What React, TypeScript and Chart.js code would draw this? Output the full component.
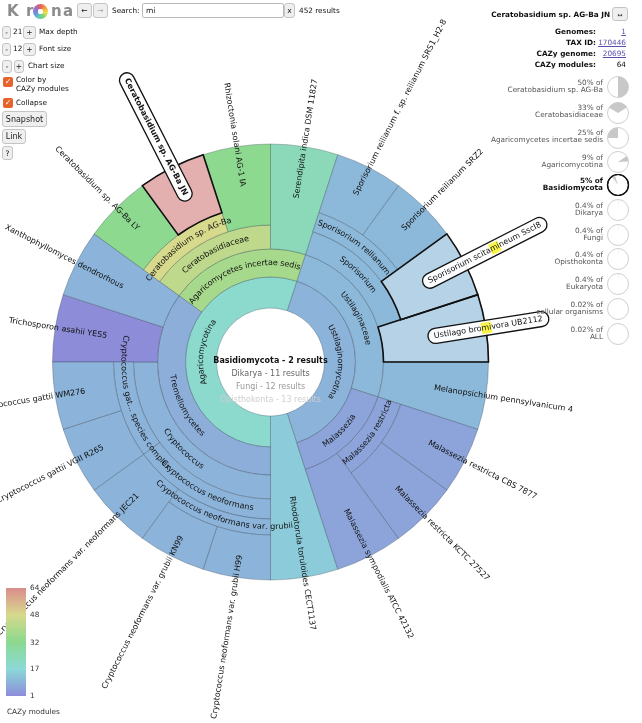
import React, { useEffect, useRef } from "react";
import { Chart, registerables } from "chart.js";

Chart.register(...registerables);

// ---------------- data ----------------
// rings from the centre outwards; "" = slot continued by a wedge from an inner ring
const ring1Names = ["Ustilaginomycotina", "Rhodotorula toruloides CECT1137", "Agaricomycotina"];
const ring1Genomes = [8, 1, 11];
const ring1Cazy = [9, 14, 19];

const ring2Names = ["Ustilaginaceae", "Malassezia", "", "Tremellomycetes", "Agaricomycetes incertae sedis"];
const ring2Genomes = [5, 3, 1, 7, 4];
const ring2Cazy = [10, 6, 0, 8, 38];

const ring3Names = [
  "Sporisorium",
  "Ustilago bromivora UB2112",
  "Melanopsichium pennsylvanicum 4",
  "Malassezia restricta",
  "Malassezia sympodialis ATCC 42132",
  "",
  "Cryptococcus",
  "Trichosporon asahii YES5",
  "Xanthophyllomyces dendrorhous",
  "Ceratobasidiaceae",
  "Serendipita indica DSM 11827",
];
const ring3Genomes = [3, 1, 1, 2, 1, 1, 5, 1, 1, 3, 1];
const ring3Cazy = [10, 10, 10, 6, 6, 0, 9, 1, 9, 43, 23];

const ring4Names = [
  "Sporisorium reilianum",
  "Sporisorium scitamineum SscI8",
  "",
  "Malassezia restricta CBS 7877",
  "Malassezia restricta KCTC 27527",
  "",
  "Cryptococcus neoformans",
  "Cryptococcus gat... species complex",
  "",
  "Ceratobasidium sp. AG-Ba",
  "Rhizoctonia solani AG-1 IA",
  "",
];
const ring4Genomes = [2, 1, 2, 1, 1, 2, 3, 2, 2, 2, 1, 1];
const ring4Cazy = [10, 10, 0, 6, 6, 0, 9, 9, 0, 48, 32, 0];

const ring5Names = [
  "Sporisorium reilianum f. sp. reilianum SRS1_H2-8",
  "Sporisorium reilianum SRZ2",
  "",
  "Cryptococcus neoformans var. grubii",
  "Cryptococcus neoformans var. neoformans JEC21",
  "Cryptococcus gattii VGII R265",
  "Cryptococcus gattii WM276",
  "",
  "Ceratobasidium sp. AG-Ba LY",
  "Ceratobasidium sp. AG-Ba JN",
  "",
];
const ring5Genomes = [1, 1, 7, 2, 1, 1, 1, 2, 1, 1, 2];
const ring5Cazy = [10, 10, 0, 9, 9, 9, 9, 0, 32, 64, 0];

const ring6Names = ["", "Cryptococcus neoformans var. grubii H99", "Cryptococcus neoformans var. grubii KN99", ""];
const ring6Genomes = [9, 1, 1, 9];
const ring6Cazy = [0, 9, 9, 0];

const searchTerm = "mi";
const searchMatches = ["Sporisorium scitamineum SscI8", "Ustilago bromivora UB2112"];
const selectedName = "Ceratobasidium sp. AG-Ba JN";

const centerLines = ["Basidiomycota - 2 results", "Dikarya - 11 results", "Fungi - 12 results", "Opisthokonta - 13 results"];

const colorTicks = [64, 48, 32, 17, 1];

const detailLabels = ["Genomes:", "TAX ID:", "CAZy genome:", "CAZy modules:"];
const detailValues = ["1", "170446", "20695", "64"];
const detailLinks = [true, true, true, false];

const piePercentText = ["50% of", "33% of", "25% of", "9% of", "5% of", "0.4% of", "0.4% of", "0.4% of", "0.4% of", "0.02% of", "0.02% of"];
const pieParents = [
  "Ceratobasidium sp. AG-Ba",
  "Ceratobasidiaceae",
  "Agaricomycetes incertae sedis",
  "Agaricomycotina",
  "Basidiomycota",
  "Dikarya",
  "Fungi",
  "Opisthokonta",
  "Eukaryota",
  "cellular organisms",
  "ALL",
];
const piePercents = [50, 33, 25, 9, 5, 0.4, 0.4, 0.4, 0.4, 0.02, 0.02];
const pieStartDeg = [0, -60, 270, 55, 324, 0, 0, 0, 0, 0, 0];

// ---------------- styling helpers ----------------
const FF = "'DejaVu Sans', sans-serif";
const FS = 8;
const ringWeights = [31, 28, 24, 20, 16, 45];

function nodeColor(v: number, lightness = 70) {
  const hue = 240 - (240 * (v - 1)) / 63;
  return `hsl(${hue.toFixed(1)}, 50%, ${lightness}%)`;
}

const rings = [
  { names: ring1Names, genomes: ring1Genomes, cazy: ring1Cazy },
  { names: ring2Names, genomes: ring2Genomes, cazy: ring2Cazy },
  { names: ring3Names, genomes: ring3Genomes, cazy: ring3Cazy },
  { names: ring4Names, genomes: ring4Genomes, cazy: ring4Cazy },
  { names: ring5Names, genomes: ring5Genomes, cazy: ring5Cazy },
  { names: ring6Names, genomes: ring6Genomes, cazy: ring6Cazy },
];

function buildDatasets() {
  return rings
    .map((ring, i) => ({
      data: ring.genomes,
      weight: ringWeights[i],
      backgroundColor: ring.names.map((n, j) =>
        n === ""
          ? "rgba(0,0,0,0)"
          : nodeColor(ring.cazy[j], n === selectedName ? 79 : searchMatches.includes(n) ? 81 : 70)
      ),
      borderColor: ring.names.map((n) => (n === "" ? "rgba(0,0,0,0)" : "rgba(40,55,70,0.38)")),
      borderWidth: ring.names.map((n) => (n === "" ? 0 : 0.8)),
      names: ring.names,
      leaf: ring.names.map((n, j) => n !== "" && ring.genomes[j] === 1),
    }))
    .reverse();
}

function drawArcText(ctx: CanvasRenderingContext2D, text: string, cx: number, cy: number, r: number, mid: number) {
  ctx.font = `${FS}px ${FF}`;
  ctx.textAlign = "center";
  ctx.textBaseline = "middle";
  const w = ctx.measureText(text).width;
  const bottom = Math.sin(mid) > 0.02;
  const span = w / r;
  let a = bottom ? mid + span / 2 : mid - span / 2;
  for (const ch of text) {
    const cw = ctx.measureText(ch).width;
    const ac = bottom ? a - cw / 2 / r : a + cw / 2 / r;
    ctx.save();
    ctx.translate(cx + r * Math.cos(ac), cy + r * Math.sin(ac));
    ctx.rotate(bottom ? ac - Math.PI / 2 : ac + Math.PI / 2);
    ctx.fillText(ch, 0, 0);
    ctx.restore();
    a = bottom ? a - cw / r : a + cw / r;
  }
}

function roundRectPath(ctx: CanvasRenderingContext2D, x: number, y: number, w: number, h: number, r: number) {
  ctx.beginPath();
  ctx.moveTo(x + r, y);
  ctx.lineTo(x + w - r, y);
  ctx.arc(x + w - r, y + r, r, -Math.PI / 2, Math.PI / 2);
  ctx.lineTo(x + r, y + h);
  ctx.arc(x + r, y + r, r, Math.PI / 2, (3 * Math.PI) / 2);
  ctx.closePath();
}

function drawLeafText(
  ctx: CanvasRenderingContext2D,
  text: string,
  cx: number,
  cy: number,
  rStart: number,
  mid: number,
  boxed: boolean,
  bold: boolean,
  term: string
) {
  ctx.save();
  ctx.translate(cx, cy);
  const right = Math.cos(mid) >= 0;
  ctx.rotate(right ? mid : mid + Math.PI);
  ctx.font = `${bold ? "bold " : ""}${FS}px ${FF}`;
  ctx.textBaseline = "middle";
  ctx.textAlign = "left";
  const w = ctx.measureText(text).width;
  const x0 = right ? rStart : -rStart - w;
  if (boxed) {
    roundRectPath(ctx, x0 - 6, -7.5, w + 12, 15, 7.5);
    ctx.fillStyle = "rgba(255,255,255,0.95)";
    ctx.fill();
    ctx.lineWidth = 1.3;
    ctx.strokeStyle = "#111";
    ctx.stroke();
  }
  if (term) {
    const idx = text.toLowerCase().indexOf(term.toLowerCase());
    if (idx >= 0) {
      const pre = ctx.measureText(text.slice(0, idx)).width;
      const tw = ctx.measureText(text.slice(idx, idx + term.length)).width;
      ctx.fillStyle = "rgb(250,245,70)";
      ctx.fillRect(x0 + pre, -5.5, tw, 11);
    }
  }
  ctx.fillStyle = "#111";
  ctx.fillText(text, x0, 0);
  ctx.restore();
}

const kronaPlugin = {
  id: "krona",
  afterDatasetsUpdate(chart: any) {
    const outer = chart.getDatasetMeta(0).controller.outerRadius;
    chart.data.datasets.forEach((ds: any, i: number) => {
      chart.getDatasetMeta(i).data.forEach((el: any, j: number) => {
        if (ds.leaf[j]) el.outerRadius = outer;
      });
    });
  },
  afterDatasetsDraw(chart: any) {
    const ctx: CanvasRenderingContext2D = chart.ctx;
    const first = chart.getDatasetMeta(0).data[0];
    const cx = first.x;
    const cy = first.y;
    const leafItems: any[] = [];
    ctx.save();
    chart.data.datasets.forEach((ds: any, i: number) => {
      chart.getDatasetMeta(i).data.forEach((el: any, j: number) => {
        const name = ds.names[j];
        if (!name) return;
        const { startAngle, endAngle, innerRadius, outerRadius } = el;
        const mid = (startAngle + endAngle) / 2;
        if (name === selectedName || searchMatches.includes(name)) {
          ctx.beginPath();
          ctx.arc(cx, cy, outerRadius, startAngle, endAngle);
          ctx.arc(cx, cy, innerRadius, endAngle, startAngle, true);
          ctx.closePath();
          ctx.lineWidth = 1.6;
          ctx.strokeStyle = "#111";
          ctx.stroke();
        }
        if (ds.leaf[j]) {
          leafItems.push({ name, mid, r: (innerRadius + outerRadius) / 2 });
        } else {
          ctx.fillStyle = "#111";
          drawArcText(ctx, name, cx, cy, (innerRadius + outerRadius) / 2, mid);
        }
      });
    });
    const special = (n: string) => n === selectedName || searchMatches.includes(n);
    leafItems
      .filter((l) => !special(l.name))
      .forEach((l) => drawLeafText(ctx, l.name, cx, cy, l.r, l.mid, false, false, ""));
    leafItems
      .filter((l) => special(l.name))
      .forEach((l) =>
        drawLeafText(ctx, l.name, cx, cy, l.r, l.mid, true, l.name === selectedName, searchMatches.includes(l.name) ? searchTerm : "")
      );
    // centre labels
    const shades = ["#111", "#666", "#9a9a9a", "#cfcfcf"];
    ctx.textAlign = "center";
    ctx.textBaseline = "middle";
    centerLines.forEach((t, k) => {
      ctx.font = `${k === 0 ? "bold " : ""}${FS}px ${FF}`;
      ctx.fillStyle = shades[k];
      ctx.fillText(t, cx, cy - 1 + k * 13);
    });
    ctx.restore();
  },
};

// ---------------- html overlay helpers ----------------
const W = 642;

function Txt(props: { x?: number; r?: number; y: number; children: any; style?: any }) {
  const base: any = {
    position: "absolute",
    top: props.y - 5,
    height: 10,
    lineHeight: "10px",
    whiteSpace: "nowrap",
  };
  if (props.r !== undefined) {
    base.right = W - props.r;
    base.textAlign = "right";
  } else base.left = props.x;
  return <div style={{ ...base, ...(props.style || {}) }}>{props.children}</div>;
}

function Btn(props: { x: number; y: number; w: number; h: number; children?: any; style?: any }) {
  return (
    <div
      style={{
        position: "absolute",
        left: props.x,
        top: props.y,
        width: props.w,
        height: props.h,
        boxSizing: "border-box",
        border: "1px solid #c4c4c4",
        borderRadius: 3,
        background: "#efefef",
        display: "flex",
        alignItems: "center",
        justifyContent: "center",
        fontSize: 7.5,
        color: "#222",
        ...(props.style || {}),
      }}
    >
      {props.children}
    </div>
  );
}

function CheckBox(props: { x: number; y: number }) {
  return (
    <div
      style={{
        position: "absolute",
        left: props.x,
        top: props.y,
        width: 10,
        height: 10,
        borderRadius: 2,
        background: "#e8622c",
        color: "#fff",
        fontSize: 8,
        lineHeight: "10px",
        textAlign: "center",
        fontWeight: "bold",
      }}
    >
      ✓
    </div>
  );
}

function Pie(props: { y: number; pct: number; start: number; bold?: boolean }) {
  const r = 10.5;
  const c = 12;
  const a0 = (props.start * Math.PI) / 180;
  const a1 = ((props.start + props.pct * 3.6) * Math.PI) / 180;
  const p = (a: number) => `${(c + r * Math.sin(a)).toFixed(2)} ${(c - r * Math.cos(a)).toFixed(2)}`;
  const large = props.pct > 50 ? 1 : 0;
  return (
    <svg style={{ position: "absolute", left: 606, top: props.y - 12 }} width={24} height={24}>
      <circle cx={c} cy={c} r={r} fill="#fff" stroke={props.bold ? "#111" : "#cfcfcf"} strokeWidth={props.bold ? 1.2 : 1} />
      <path d={`M ${c} ${c} L ${p(a0)} A ${r} ${r} 0 ${large} 1 ${p(a1)} Z`} fill="#c8c8c8" />
      {props.bold ? <circle cx={c} cy={c} r={r} fill="none" stroke="#111" strokeWidth={1.2} /> : null}
    </svg>
  );
}

export default function App() {
  const ref = useRef<HTMLCanvasElement | null>(null);

  useEffect(() => {
    const canvas = ref.current;
    if (!canvas) return;
    const chart = new Chart(canvas, {
      type: "doughnut",
      data: { datasets: buildDatasets() as any },
      options: {
        responsive: false,
        animation: false,
        events: [],
        rotation: 18,
        radius: 218,
        cutout: `${(54 / 218) * 100}%`,
        layout: { padding: { left: 52.5, right: 153.5, top: 144, bottom: 143 } },
        plugins: { legend: { display: false }, tooltip: { enabled: false } },
      } as any,
      plugins: [kronaPlugin as any],
    });
    return () => chart.destroy();
  }, []);

  const logoLetter = (ch: string, x: number) => (
    <div style={{ position: "absolute", left: x, top: 1, fontSize: 15, fontWeight: "bold", color: "#8c8c8c", lineHeight: "20px" }}>{ch}</div>
  );

  const pieRowY = [87, 112.5, 137.5, 162, 185, 210, 235, 259, 284, 309, 334];

  return (
    <div
      style={{
        position: "fixed",
        left: 0,
        top: 0,
        width: 642,
        height: 723,
        overflow: "hidden",
        background: "#fff",
        fontFamily: FF,
        fontSize: 7.3,
        color: "#111",
      }}
    >
      <canvas ref={ref} width={642} height={723} style={{ position: "absolute", left: 0, top: 0, width: 642, height: 723 }} />

      {/* logo */}
      {logoLetter("K", 7)}
      {logoLetter("r", 26)}
      <div
        style={{
          position: "absolute",
          left: 33,
          top: 4,
          width: 15,
          height: 15,
          borderRadius: "50%",
          background:
            "radial-gradient(circle, #fff 0 2.5px, transparent 3px), conic-gradient(#e65b5b 0deg, #f0a040 50deg, #f0e050 100deg, #7fd36b 150deg, #5cc9c0 200deg, #6a8fe0 250deg, #a070d0 300deg, #e65b5b 360deg)",
        }}
      />
      {logoLetter("n", 51)}
      {logoLetter("a", 63)}

      {/* navigation + search */}
      <Btn x={77} y={3} w={15} h={15}>←</Btn>
      <Btn x={93} y={3} w={15} h={15} style={{ color: "#aaa" }}>→</Btn>
      <Txt x={112} y={11}>Search:</Txt>
      <div
        style={{
          position: "absolute",
          left: 142,
          top: 3,
          width: 142,
          height: 15,
          boxSizing: "border-box",
          border: "1px solid #bbb",
          borderRadius: 2,
          fontSize: 7.5,
          lineHeight: "13px",
          paddingLeft: 3,
        }}
      >
        mi
      </div>
      <Btn x={284} y={3} w={11} h={15}>x</Btn>
      <Txt x={299} y={11}>452 results</Txt>

      {/* left controls */}
      <Btn x={2} y={26} w={9} h={13}>-</Btn>
      <Txt x={13} y={32}>21</Txt>
      <Btn x={23} y={26} w={13} h={13}>+</Btn>
      <Txt x={39} y={32}>Max depth</Txt>

      <Btn x={2} y={43} w={9} h={13}>-</Btn>
      <Txt x={13} y={49}>12</Txt>
      <Btn x={23} y={43} w={13} h={13}>+</Btn>
      <Txt x={39} y={49}>Font size</Txt>

      <Btn x={2} y={60} w={10} h={13}>-</Btn>
      <Btn x={14} y={60} w={10} h={13}>+</Btn>
      <Txt x={28} y={66}>Chart size</Txt>

      <CheckBox x={3} y={77} />
      <Txt x={16} y={80}>Color by</Txt>
      <Txt x={16} y={89}>CAZy modules</Txt>
      <CheckBox x={3} y={98} />
      <Txt x={16} y={103}>Collapse</Txt>

      <Btn x={2} y={111} w={45} h={16} style={{ fontSize: 8 }}>Snapshot</Btn>
      <Btn x={2} y={129} w={24} h={15} style={{ fontSize: 8 }}>Link</Btn>
      <Btn x={2} y={146} w={11} h={14}>?</Btn>

      {/* details panel */}
      <Txt r={610} y={15} style={{ fontWeight: "bold" }}>
        {selectedName}
      </Txt>
      <Btn x={612} y={7} w={16} h={14} style={{ fontSize: 6 }}>↔</Btn>
      {detailLabels.map((l, i) => (
        <React.Fragment key={l}>
          <Txt r={596} y={32 + i * 11} style={{ fontWeight: "bold" }}>
            {l}
          </Txt>
          <Txt r={626} y={32 + i * 11} style={detailLinks[i] ? { color: "#5a4fb0", textDecoration: "underline" } : {}}>
            {detailValues[i]}
          </Txt>
        </React.Fragment>
      ))}

      {pieParents.map((p, i) => {
        const bold = i === 4;
        const st = bold ? { fontWeight: "bold", color: "#111" } : { color: "#555" };
        return (
          <React.Fragment key={p + i}>
            <Txt r={603} y={pieRowY[i] - 4.5} style={st}>
              {piePercentText[i]}
            </Txt>
            <Txt r={603} y={pieRowY[i] + 2.5} style={st}>
              {p}
            </Txt>
            <Pie y={pieRowY[i]} pct={piePercents[i]} start={pieStartDeg[i]} bold={bold} />
          </React.Fragment>
        );
      })}

      {/* colour key */}
      <div
        style={{
          position: "absolute",
          left: 6,
          top: 588,
          width: 20,
          height: 108,
          background: `linear-gradient(to top, ${[1, 9, 17, 24, 32, 40, 48, 56, 64].map((v) => nodeColor(v)).join(", ")})`,
        }}
      />
      {colorTicks.map((t) => (
        <Txt key={t} x={30} y={696 - ((t - 1) / 63) * 108} style={{ color: "#333" }}>
          {t}
        </Txt>
      ))}
      <Txt x={7} y={712} style={{ color: "#333" }}>
        CAZy modules
      </Txt>
    </div>
  );
}
